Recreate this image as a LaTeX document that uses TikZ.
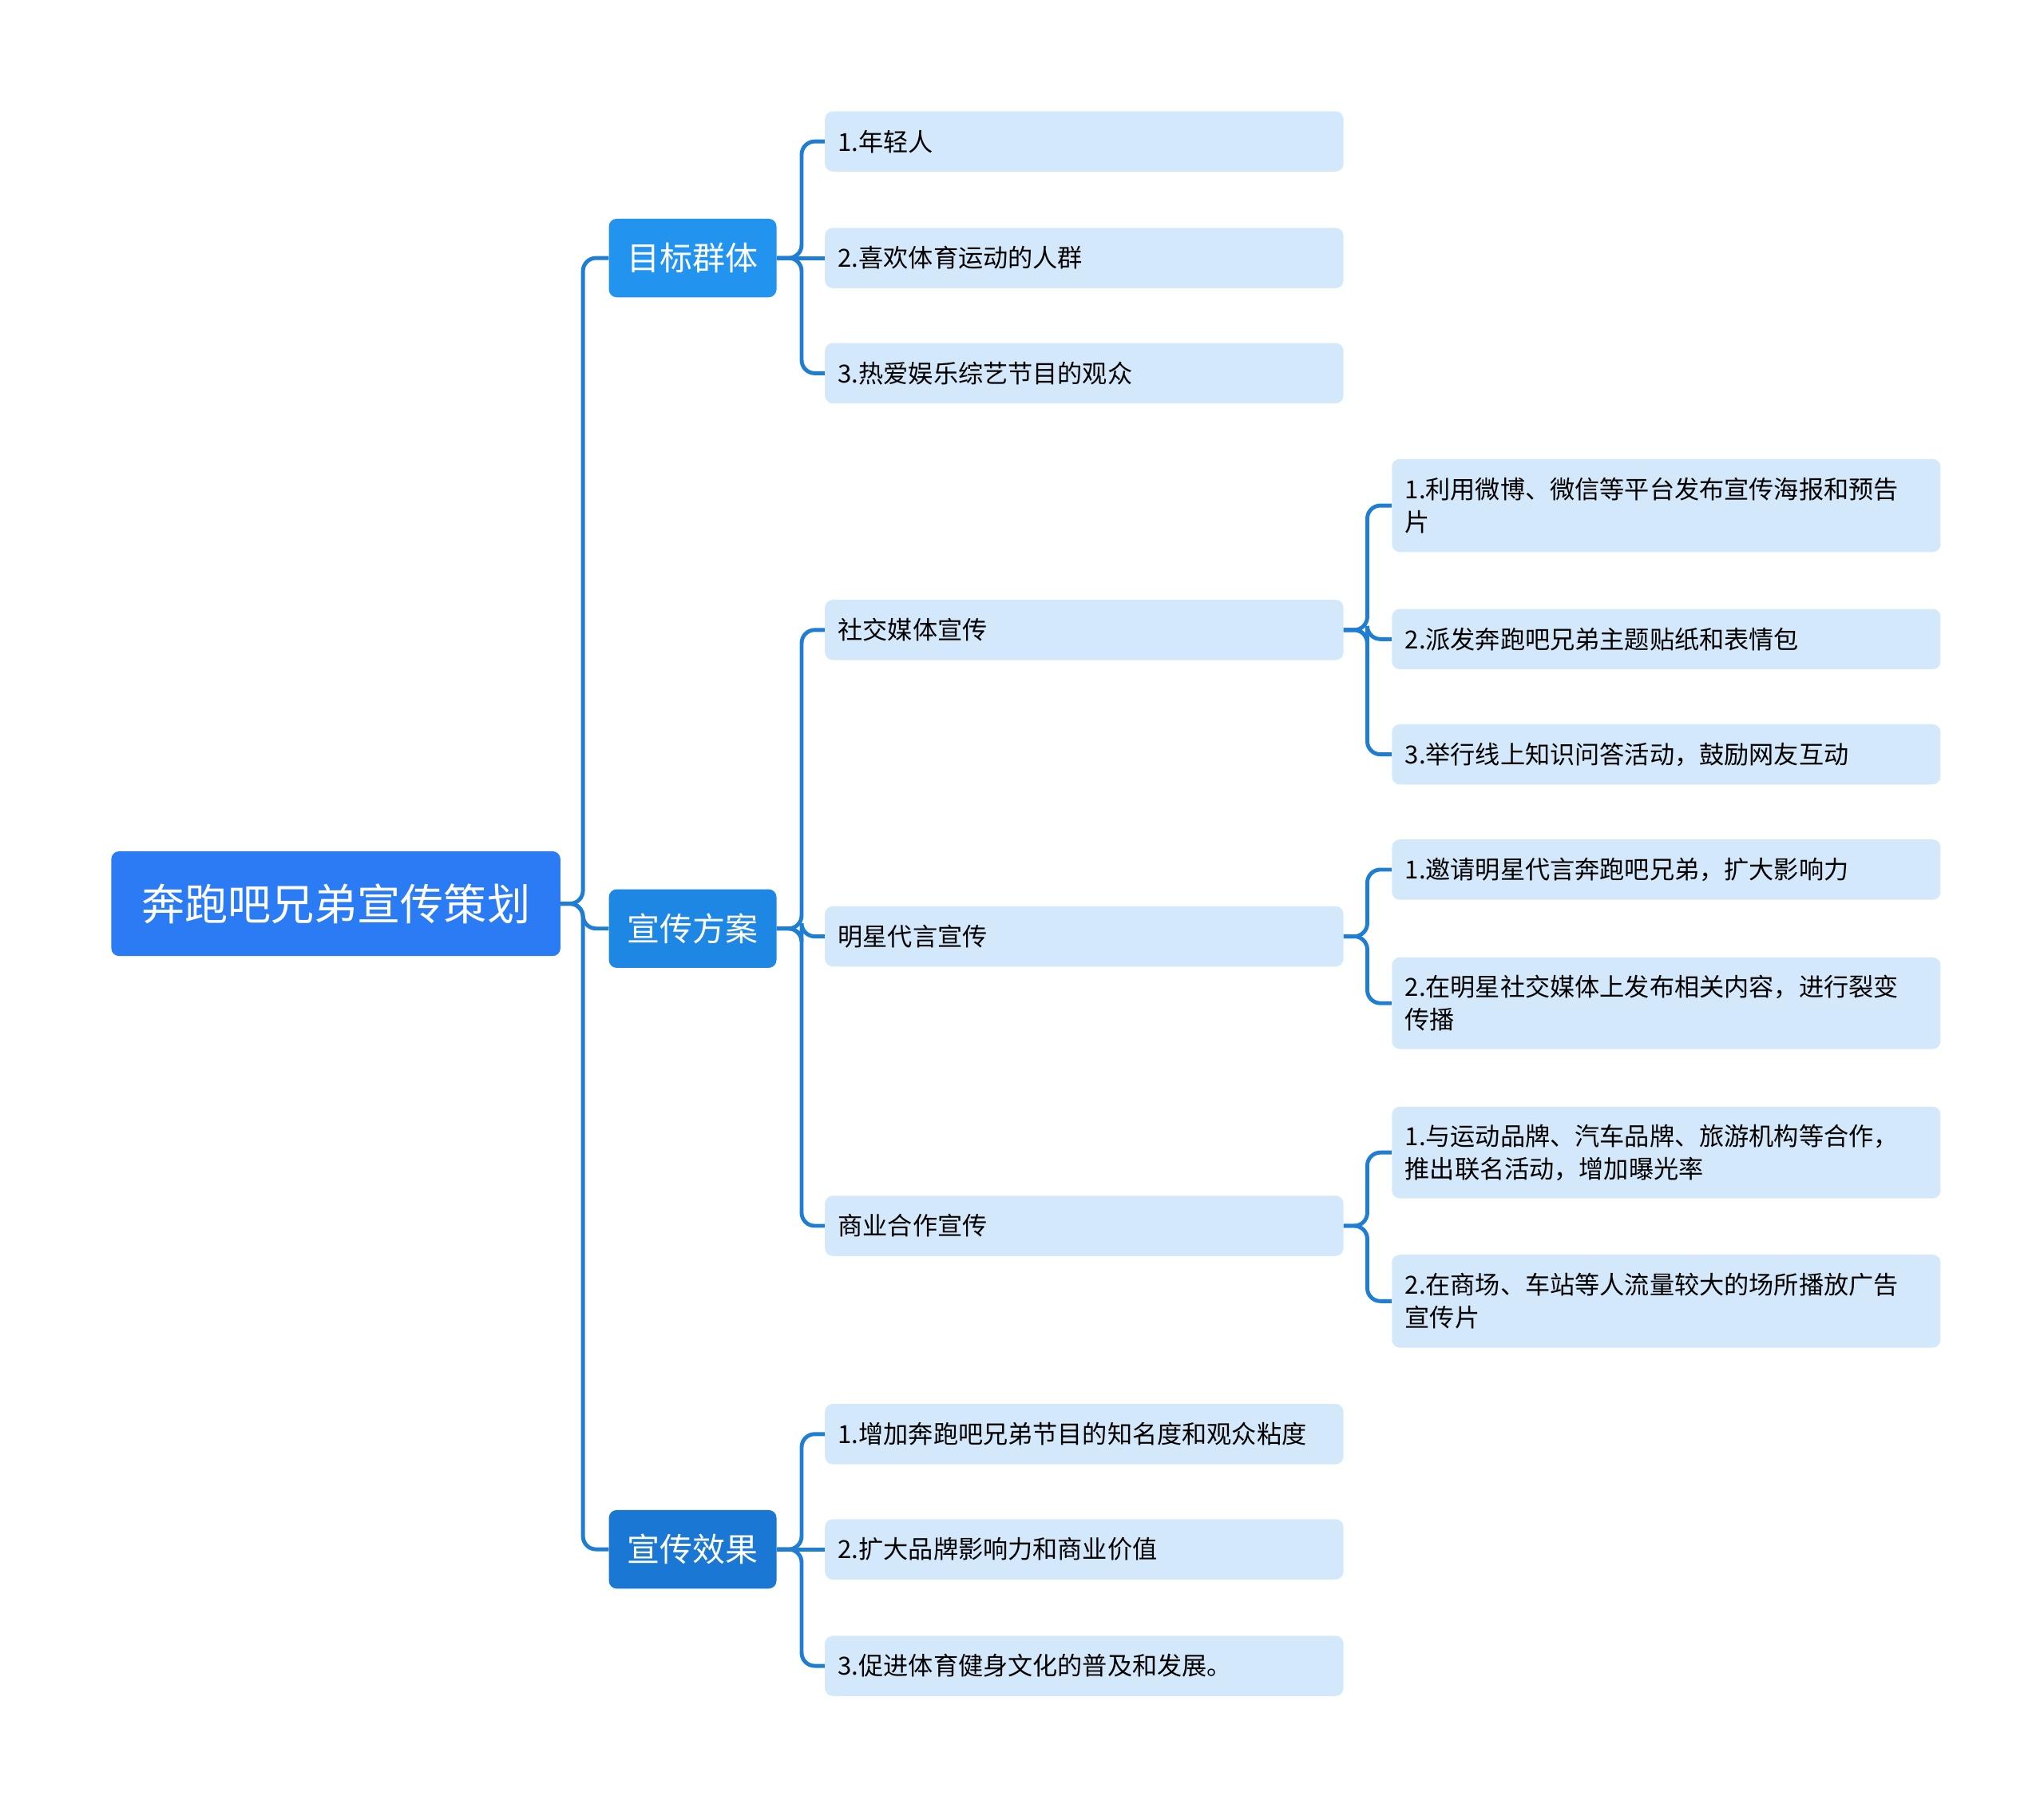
\documentclass[tikz,border=0pt]{standalone}
\usepackage{fontspec}
\setmainfont{Noto Sans CJK SC}
\begin{document}
\begin{tikzpicture}[x=1pt,y=-1pt,
  root/.style={rounded corners=6,fill=rootc,text=white,minimum width=343,minimum height=80,font=\fontsize{33}{38}\selectfont},
  lone/.style={rounded corners=6,fill=#1,text=white,minimum width=128,minimum height=60,font=\fontsize{25}{30}\selectfont},
  ltwo/.style={rounded corners=6,fill=leafc,minimum width=396,minimum height=46,text width=376,align=left,font=\fontsize{19}{25}\selectfont},
  lthree/.style={rounded corners=6,fill=leafc,minimum width=419,minimum height=#1,text width=399,align=left,font=\fontsize{19}{25}\selectfont},
  lthree/.default=46,
  conn/.style={draw=linec,line width=3,rounded corners=10},
  st/.style={sharp corners}]
\definecolor{rootc}{HTML}{2B7CF4}
\definecolor{c1}{HTML}{2393F0}
\definecolor{c2}{HTML}{1E87E4}
\definecolor{c3}{HTML}{1A77D4}
\definecolor{leafc}{HTML}{D3E8FB}
\definecolor{linec}{HTML}{1F7ED2}
\useasboundingbox (0,0) rectangle (1561,1374);
\node[root] (r) at (256.5,690) {奔跑吧兄弟宣传策划};
\node[lone=c1] (a) at (529,197) {目标群体};
\node[lone=c2] (b) at (529,709) {宣传方案};
\node[lone=c3] (c) at (529,1183) {宣传效果};
\node[ltwo] (a1) at (828,108) {1.年轻人};
\node[ltwo] (a2) at (828,197) {2.喜欢体育运动的人群};
\node[ltwo] (a3) at (828,285) {3.热爱娱乐综艺节目的观众};
\node[ltwo] (b1) at (828,481) {社交媒体宣传};
\node[ltwo] (b2) at (828,715) {明星代言宣传};
\node[ltwo] (b3) at (828,936) {商业合作宣传};
\node[ltwo] (c1n) at (828,1095) {1.增加奔跑吧兄弟节目的知名度和观众粘度};
\node[ltwo] (c2n) at (828,1183) {2.扩大品牌影响力和商业价值};
\node[ltwo] (c3n) at (828,1272) {3.促进体育健身文化的普及和发展。};
\node[lthree=71] (d1) at (1272.5,386) {1.利用微博、微信等平台发布宣传海报和预告\\片};
\node[lthree] (d2) at (1272.5,488) {2.派发奔跑吧兄弟主题贴纸和表情包};
\node[lthree] (d3) at (1272.5,576) {3.举行线上知识问答活动，鼓励网友互动};
\node[lthree] (e1) at (1272.5,664) {1.邀请明星代言奔跑吧兄弟，扩大影响力};
\node[lthree=70] (e2) at (1272.5,766) {2.在明星社交媒体上发布相关内容，进行裂变\\传播};
\node[lthree=70] (f1) at (1272.5,880) {1.与运动品牌、汽车品牌、旅游机构等合作，\\推出联名活动，增加曝光率};
\node[lthree=71] (f2) at (1272.5,993.5) {2.在商场、车站等人流量较大的场所播放广告\\宣传片};
\foreach \p/\c in {r/a,r/b,r/c}{\draw[conn] (\p.east) -- ++(17,0) |- (\c.west);}
\foreach \p/\c/\s in {a/a1/conn,a/a2/st,a/a3/conn,b/b1/conn,b/b2/conn,b/b3/conn,c/c1n/conn,c/c2n/st,c/c3n/conn}{\draw[conn,\s] (\p.east) -- ++(19,0) |- (\c.west);}
\foreach \p/\c in {b1/d1,b1/d2,b1/d3,b2/e1,b2/e2,b3/f1,b3/f2}{\draw[conn] (\p.east) -- ++(18,0) |- (\c.west);}
\end{tikzpicture}
\end{document}
